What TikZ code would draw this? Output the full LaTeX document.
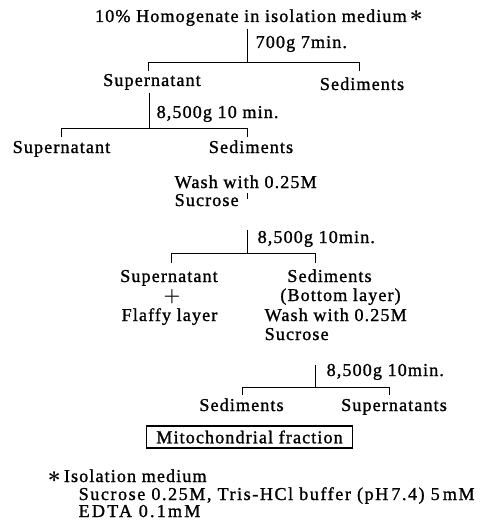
\documentclass[tikz,border=0pt]{standalone}
\usepackage{fontspec}
\setmainfont{Liberation Serif}[LetterSpace=6,FakeBold=1.2]
\newcommand{\bigast}{{\boldmath\fontsize{17pt}{17pt}\selectfont$\ast$}}
\begin{document}
\begin{tikzpicture}[x=0.75pt,y=-0.75pt,
  txt/.style={inner sep=0pt, outer sep=2pt, font=\fontsize{13.6pt}{16pt}\selectfont},
  ctr/.style={txt, anchor=base},
  lbl/.style={txt, anchor=base west},
  ln/.style={line width=0.65pt, line cap=butt}]
\useasboundingbox (0,0) rectangle (479,524);

% level 0
\node[ctr] (hom) at (259,22) {10\% Homogenate in isolation medium\,\bigast};
\coordinate (j1) at (247,62);
\coordinate (b1l) at (148,62);
\coordinate (b1r) at (359,62);
\draw[ln] (hom.south -| j1) -- (j1);
\node[lbl] (c1) at (253,48) {700g 7min.};
\draw[ln] (b1l) ++(0,9) -- (b1l) -- (b1r) -- ++(0,9);
\node[ctr] (s1) at (152,86) {Supernatant};
\node[ctr] (d1) at (362,90) {Sediments};

% level 1
\coordinate (j2) at (149,128);
\coordinate (b2l) at (61,128);
\coordinate (b2r) at (247,128);
\draw[ln] (s1.south -| j2) -- (j2);
\node[lbl] (c2) at (154,118) {8,500g 10 min.};
\draw[ln] (b2l) ++(0,9) -- (b2l) -- (b2r) -- ++(0,9);
\node[ctr] (s2) at (61.5,153) {Supernatant};
\node[ctr] (d2) at (251,153) {Sediments};
\node[lbl] (w1) at (172,188) {Wash with 0.25M};
\node[lbl] (w2) at (172,206) {Sucrose};
\draw[ln] (247,193) -- (247,199);

% level 2
\coordinate (t3) at (247,230);
\coordinate (j3) at (247,253);
\coordinate (b3l) at (171,253);
\coordinate (b3r) at (315,253);
\draw[ln] (t3) -- (j3);
\node[lbl] (c3) at (255,243) {8,500g 10min.};
\draw[ln] (b3l) ++(0,10) -- (b3l) -- (b3r) -- ++(0,10);
\node[ctr] (s3) at (169,282) {Supernatant};
\node[ctr] (p3) at (172,301) {{\boldmath$+$}};
\node[ctr] (f3) at (169.5,321) {Flaffy layer};
\node[ctr] (d3) at (329.5,282) {Sediments};
\node[ctr] (bl3) at (340.5,301) {(Bottom layer)};
\node[lbl] (w3) at (262,321) {Wash with 0.25M};
\node[lbl] (w4) at (262,340) {Sucrose};

% level 3
\coordinate (t4) at (315,365);
\coordinate (j4) at (315,387);
\coordinate (b4l) at (242,387);
\coordinate (b4r) at (389,387);
\draw[ln] (t4) -- (j4);
\node[lbl] (c4) at (324,376) {8,500g 10min.};
\draw[ln] (b4l) ++(0,8) -- (b4l) -- (b4r) -- ++(0,8);
\node[ctr] (d4) at (241.5,411) {Sediments};
\node[ctr] (s4) at (394,411) {Supernatants};

% result box
\node[txt, draw, line width=0.9pt, minimum width=154pt, minimum height=16.5pt, anchor=center]
  (mf) at (249.5,437) {Mitochondrial fraction};

% footnote
\node[lbl] (n1) at (45,482) {\bigast\,Isolation medium};
\node[lbl] (n2) at (76,500) {\addfontfeature{LetterSpace=8.5}Sucrose 0.25M, Tris-HCl buffer (pH\,7.4) 5\,mM};
\node[lbl] (n3) at (76,517) {\addfontfeature{LetterSpace=12}EDTA 0.1mM};
\end{tikzpicture}
\end{document}
